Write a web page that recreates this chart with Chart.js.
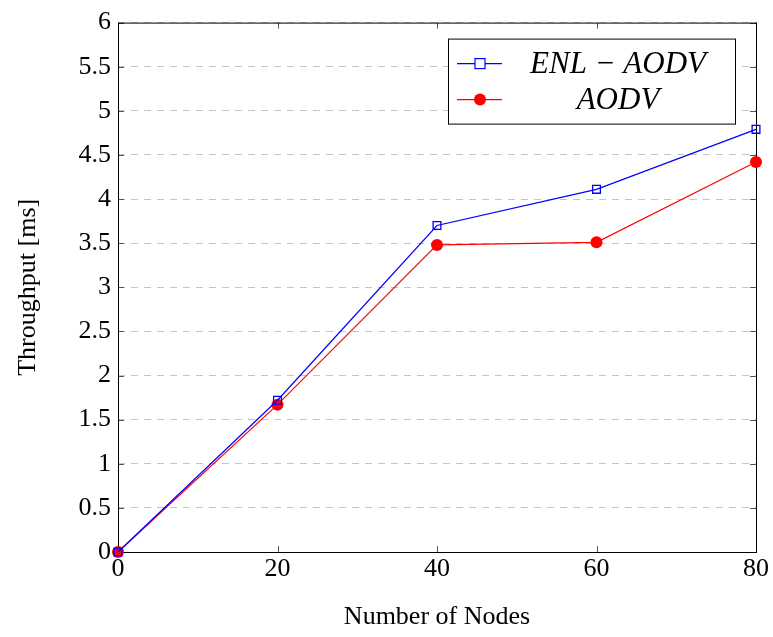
<!DOCTYPE html>
<html lang="en">
<head>
  <meta charset="UTF-8">
  <title>Throughput vs Nodes</title>
  <style>
    body { margin: 0; background: #fff; }
    #wrap { width: 773px; height: 637px; }
  </style>
</head>
<body>
  <div id="wrap"><canvas id="chart" width="773" height="637"></canvas></div>
  <script src="https://cdn.jsdelivr.net/npm/chart.js@4"></script>
  <script>
    // data
    const nodes = [0, 20, 40, 60, 80];
    const enlAodv = [0, 1.72, 3.70, 4.11, 4.79];
    const aodv = [0, 1.67, 3.48, 3.51, 4.42];
    const seriesNames = ['ENL \u2212 AODV', 'AODV'];

    const FONT = '"Liberation Serif", "DejaVu Serif", serif';

    const toPoints = (xs, ys) => xs.map((x, i) => ({ x: x, y: ys[i] }));

    // inward tick marks on all four sides, frame and legend box
    const frameTicks = {
      id: 'frameTicks',
      beforeDatasetsDraw(chart) {
        const { ctx, chartArea: a, scales } = chart;
        ctx.save();
        ctx.strokeStyle = '#555';
        ctx.lineWidth = 1;
        const len = 6;
        scales.y.ticks.forEach(t => {
          const y = Math.round(scales.y.getPixelForValue(t.value)) + 0.5;
          ctx.beginPath();
          ctx.moveTo(a.left, y); ctx.lineTo(a.left + len, y);
          ctx.moveTo(a.right, y); ctx.lineTo(a.right - len, y);
          ctx.stroke();
        });
        scales.x.ticks.forEach(t => {
          const x = Math.round(scales.x.getPixelForValue(t.value)) + 0.5;
          ctx.beginPath();
          ctx.moveTo(x, a.bottom); ctx.lineTo(x, a.bottom - len);
          ctx.moveTo(x, a.top); ctx.lineTo(x, a.top + len);
          ctx.stroke();
        });
        ctx.strokeStyle = '#000';
        ctx.strokeRect(a.left + 0.5, a.top + 0.5, a.right - a.left, a.bottom - a.top);
        ctx.restore();
      },
      afterDraw(chart) {
        const { ctx, chartArea: a } = chart;
        const bx = a.left + 330, by = a.top + 16, bw = 287, bh = 85;
        ctx.save();
        ctx.fillStyle = '#fff';
        ctx.fillRect(bx, by, bw, bh);
        ctx.strokeStyle = '#000';
        ctx.lineWidth = 1;
        ctx.strokeRect(bx + 0.5, by + 0.5, bw, bh);
        const rows = [by + 25, by + 61];
        chart.data.datasets.forEach((ds, i) => {
          const y = rows[i];
          ctx.strokeStyle = ds.borderColor;
          ctx.lineWidth = 1.2;
          ctx.beginPath();
          ctx.moveTo(bx + 9, y); ctx.lineTo(bx + 54, y);
          ctx.stroke();
          const mx = bx + 32;
          if (ds.pointStyle === 'rect') {
            ctx.fillStyle = '#fff';
            ctx.fillRect(mx - 5, y - 5, 10, 10);
            ctx.strokeRect(mx - 5, y - 5, 10, 10);
          } else {
            ctx.fillStyle = ds.pointBackgroundColor;
            ctx.beginPath();
            ctx.arc(mx, y, 6, 0, Math.PI * 2);
            ctx.fill();
          }
          ctx.fillStyle = '#000';
          ctx.font = 'italic 31px ' + FONT;
          ctx.textAlign = 'center';
          ctx.textBaseline = 'middle';
          ctx.fillText(seriesNames[i], bx + 170, y + 1);
        });
        ctx.restore();
      }
    };

    new Chart(document.getElementById('chart'), {
      type: 'line',
      data: {
        datasets: [
          {
            label: seriesNames[0],
            data: toPoints(nodes, enlAodv),
            borderColor: '#0000ff',
            borderWidth: 1.2,
            pointStyle: 'rect',
            pointRadius: 5.5,
            pointBorderWidth: 1.3,
            pointBorderColor: '#0000ff',
            pointBackgroundColor: 'rgba(255,255,255,0)',
            tension: 0,
            clip: false
          },
          {
            label: seriesNames[1],
            data: toPoints(nodes, aodv),
            borderColor: '#ff0000',
            borderWidth: 1.2,
            pointStyle: 'circle',
            pointRadius: 6,
            pointBorderWidth: 0,
            pointBackgroundColor: '#ff0000',
            tension: 0,
            clip: false
          }
        ]
      },
      options: {
        responsive: false,
        animation: false,
        layout: { padding: { top: 20, right: 17, left: 0, bottom: 0 } },
        plugins: { legend: { display: false }, tooltip: { enabled: false } },
        scales: {
          x: {
            type: 'linear',
            min: 0, max: 80,
            ticks: { stepSize: 20, color: '#000', font: { family: FONT, size: 26 }, padding: 2 },
            grid: { display: false, drawTicks: false },
            border: { display: false },
            title: { display: true, text: 'Number of Nodes', color: '#000', font: { family: FONT, size: 26 }, padding: { top: 6 } },
            afterFit(scale) { scale.height = 85; }
          },
          y: {
            min: 0, max: 6,
            ticks: {
              stepSize: 0.5, color: '#000', font: { family: FONT, size: 26 }, padding: 7,
              callback: v => String(v)
            },
            grid: { color: '#c4c4c4', lineWidth: 1, drawTicks: false },
            border: { display: false, dash: [7, 6] },
            title: { display: true, text: 'Throughput [ms]', color: '#000', font: { family: FONT, size: 26 }, padding: { top: 13, bottom: 0 } },
            afterFit(scale) { scale.width = 118; }
          }
        }
      },
      plugins: [frameTicks]
    });
  </script>
</body>
</html>
